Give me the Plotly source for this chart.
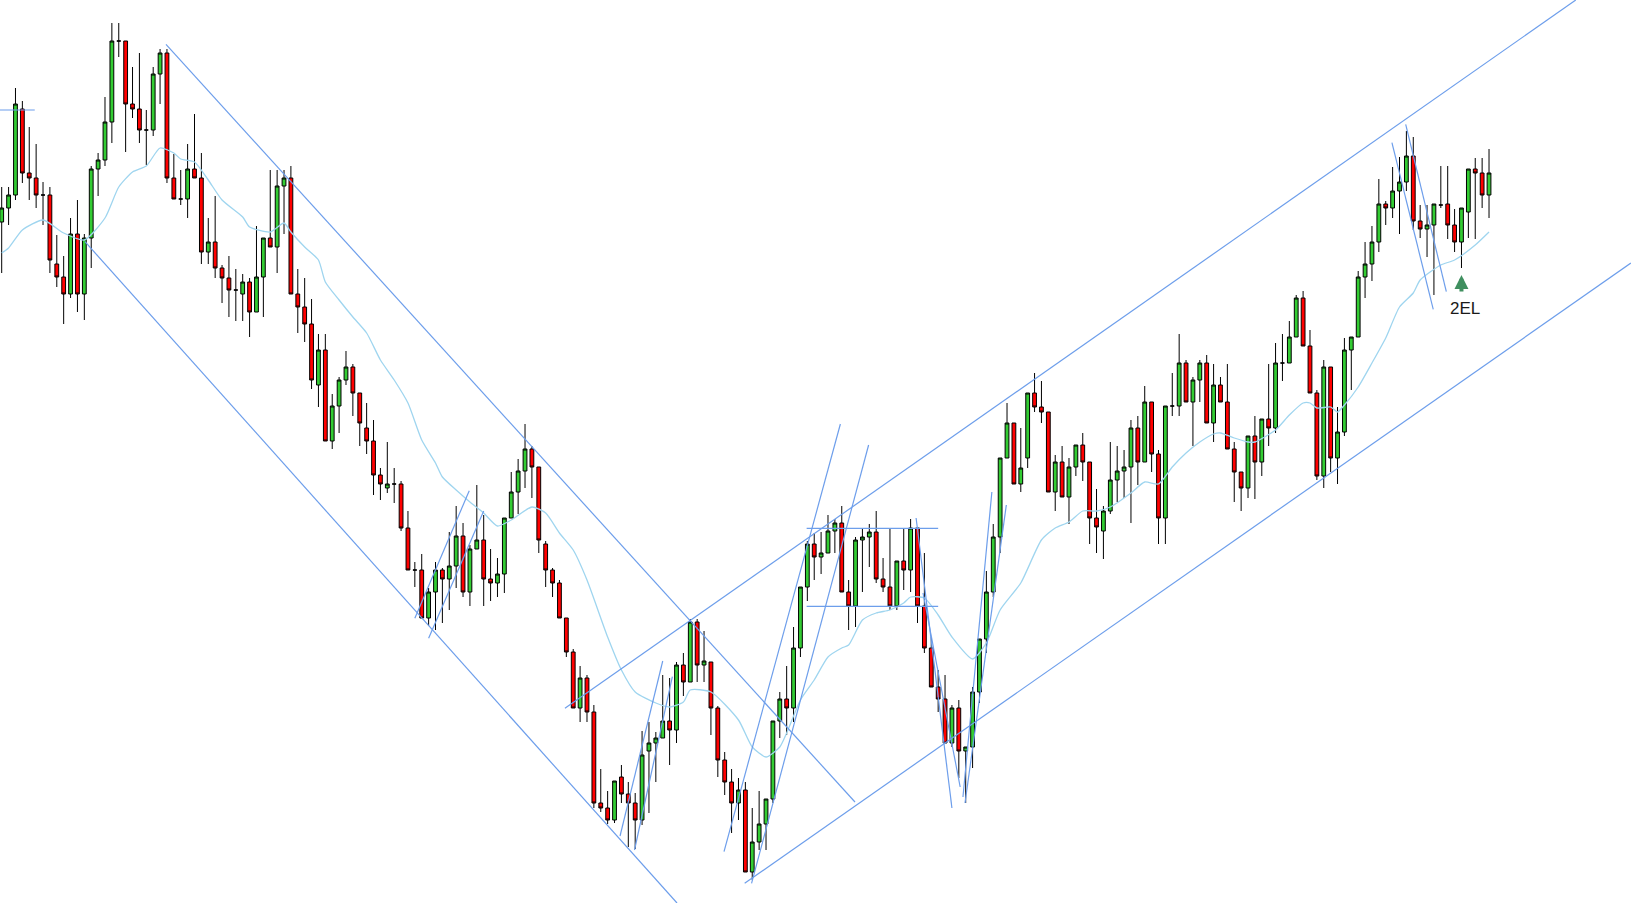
import plotly.graph_objects as go

# ---- data (candle index, prices) ----
opens = [681,695,708,794,730,725,708,708,639,626,609,669,609,665,734,743,781,862,862,799,
         794,773,773,829,850,725,704,704,734,725,651,661,635,625,613,609,621,591,626,665,
         656,717,725,609,596,579,518,553,462,497,523,536,510,475,462,428,415,419,419,375,
         333,333,285,311,333,324,337,367,311,354,363,324,320,329,385,411,432,454,436,359,
         333,320,285,251,195,225,191,100,95,83,126,109,100,83,152,160,165,182,173,238,
         221,281,238,241,195,143,121,100,113,31,61,79,104,182,204,195,255,316,359,346,
         350,372,380,311,297,363,366,371,324,316,297,342,333,375,297,255,216,204,160,195,
         152,156,211,264,311,366,445,480,419,445,510,496,491,411,441,406,436,458,441,385,
         372,392,423,432,436,475,441,501,449,385,497,497,540,501,523,540,480,518,501,454,
         431,415,467,441,484,475,540,540,566,605,557,510,427,536,445,471,553,566,626,639,
         661,699,695,712,721,747,682,674,678,698,699,678,661,691,734,730,708]
highs = [716,716,815,802,776,759,721,716,668,647,685,703,669,737,750,806,880,880,862,836,
         850,793,836,854,854,749,733,759,789,750,685,707,638,647,634,629,625,677,665,733,
         733,733,737,634,625,604,569,569,509,526,552,539,510,500,483,435,461,435,422,392,
         341,349,315,341,335,371,397,380,358,418,388,354,345,385,431,444,479,457,436,362,
         335,323,285,254,237,228,198,134,112,122,138,121,110,172,181,171,228,225,241,250,
         284,284,272,241,197,151,134,125,121,95,112,104,182,211,237,276,316,362,370,371,
         388,384,397,323,366,375,379,392,345,375,342,375,384,375,350,266,233,228,198,203,
         156,216,264,332,379,445,500,480,475,510,530,522,491,448,457,445,458,470,441,414,
         397,461,457,453,483,487,517,501,453,497,530,569,543,526,543,548,539,526,539,461,
         431,467,487,484,539,560,569,582,608,612,573,513,543,536,496,565,566,632,661,677,
         724,702,736,746,772,766,698,698,699,737,737,694,695,734,745,745,754]
lows = [630,678,703,720,703,695,678,630,616,579,605,591,583,635,707,737,760,846,751,785,
        760,738,767,799,720,704,698,685,725,639,639,625,600,586,582,582,566,591,586,656,
        630,669,609,570,561,514,496,462,454,470,518,487,457,449,408,403,410,400,372,333,
        316,285,277,273,280,293,315,306,297,354,297,302,306,310,385,389,415,405,350,316,
        306,285,246,195,181,181,95,91,79,80,100,56,54,78,90,121,165,138,160,207,
        221,221,221,168,126,108,70,83,31,23,53,53,100,165,168,181,246,302,323,329,
        350,350,311,273,276,311,336,320,311,293,293,313,311,280,250,216,191,160,156,125,
        100,135,200,250,306,350,445,419,411,435,491,480,411,392,406,379,427,422,359,350,
        344,389,401,405,380,418,441,431,359,359,487,487,501,457,501,480,461,501,454,401,
        392,405,404,427,457,470,522,540,566,557,510,423,415,431,419,467,513,566,605,622,
        651,678,685,669,712,673,665,646,608,695,664,651,635,665,664,695,685]
closes = [695,708,799,730,725,708,708,643,626,609,669,609,665,734,743,781,862,862,799,794,
          773,773,829,850,725,704,704,734,725,651,661,635,625,613,613,621,591,626,665,656,
          717,725,609,596,579,523,553,462,497,523,536,510,480,462,428,419,419,419,375,333,
          333,285,311,333,324,337,367,311,354,363,324,320,329,385,411,432,454,436,363,333,
          320,285,251,195,225,191,100,95,83,122,109,100,83,148,160,165,182,173,238,221,
          281,238,242,195,143,121,100,113,31,61,79,104,182,204,195,255,316,359,346,350,
          372,380,311,297,363,366,371,324,316,297,342,333,375,297,255,216,204,160,195,152,
          156,211,264,311,366,445,480,419,435,510,496,491,411,441,406,436,458,441,385,376,
          392,423,432,436,475,441,501,449,385,497,497,540,501,523,540,480,518,501,454,431,
          415,467,441,484,475,540,540,566,605,557,510,427,536,445,471,553,566,626,639,661,
          699,695,712,721,747,682,674,678,699,698,678,661,695,734,730,708,730]
idx = list(range(len(opens)))

# moving average (candle index, value)
ma_idx = [0,1,3,6,9,12,15,17,19,21,23,25,26,28,30,32,35,36,39,41,42,44,46,47,49,51,53,55,57,59,
          61,63,64,66,68,70,72,74,77,79,81,83,85,88,90,92,95,97,99,100,103,107,109,111,113,114,
          116,118,120,122,123,125,127,129,131,132,134,136,138,141,143,145,148,151,153,155,157,
          159,161,164,166,168,170,172,174,176,177,179,181,182,185,187,189,190,191,193,194,195,
          197,199,201,203,205,206,209,211,214,216]
ma_val = [650,655,673,683,670,663,685,716,731,737,755,750,744,741,723,703,686,676,671,680,671,
          656,643,621,603,586,570,543,523,500,463,440,426,413,401,390,377,383,396,390,370,353,
          323,266,233,211,200,196,201,213,211,183,156,146,156,170,203,223,246,255,258,283,290,
          293,300,306,305,288,266,244,260,293,320,363,375,381,392,392,396,410,421,419,436,450,
          461,469,470,465,461,461,473,488,500,500,495,496,491,498,516,540,565,596,610,623,638,
          643,658,671]

# trend lines: (index0, price0, index1, price1)
trendlines = [
    (-0.3, 793, 4.8, 793),
    (23.86, 858.7, 123.92, 101),
    (12.1, 661.3, 98.07, 0),
    (81.8, 194.7, 228.6, 903),
    (107.9, 19.7, 236.6, 640),
    (116.9, 374.7, 136.0, 374.7),
    (116.9, 296.7, 136.0, 296.7),
    (104.9, 51.3, 121.8, 479),
    (108.9, 19.7, 125.9, 458),
    (60.0, 284.7, 67.9, 412.3),
    (62.0, 264.7, 70.0, 392),
    (89.8, 67, 96.0, 242),
    (91.9, 53, 97.4, 226.3),
    (132.8, 385, 138.0, 95),
    (133.8, 310, 139.2, 116),
    (139.6, 106, 143.8, 411),
    (139.9, 100, 145.9, 398),
    (201.9, 760.3, 207.9, 593.7),
    (203.9, 778.7, 209.8, 611.3),
]

signal_idx = 212
signal_price = 628
signal_label = "2EL"
label_price = 594.5

fig = go.Figure()
fig.add_trace(go.Candlestick(
    x=idx, open=opens, high=highs, low=lows, close=closes,
    increasing=dict(fillcolor="#33cc33", line=dict(color="black", width=1)),
    decreasing=dict(fillcolor="#ff0000", line=dict(color="black", width=1)),
    whiskerwidth=0, hoverinfo="skip", showlegend=False,
))
fig.add_trace(go.Scatter(x=ma_idx, y=ma_val, mode="lines",
                         line=dict(color="#9fd5ef", width=1.3, shape="spline", smoothing=0.6),
                         hoverinfo="skip", showlegend=False))

for (x0, y0, x1, y1) in trendlines:
    fig.add_shape(type="line", xref="x", yref="y", x0=x0, y0=y0, x1=x1, y1=y1,
                  line=dict(color="#6d9eeb", width=1.2), layer="above")

fig.add_annotation(x=signal_idx, y=signal_price, xref="x", yref="y", text="",
                   showarrow=True, ax=0, ay=18, arrowhead=2, arrowsize=0.7,
                   arrowwidth=4, arrowcolor="#3f8f5f", standoff=0)
fig.add_annotation(x=signal_idx + 0.5, y=label_price, xref="x", yref="y", text=signal_label,
                   showarrow=False, font=dict(family="Liberation Sans, Arial", size=17, color="#1a1a1a"))

fig.update_layout(
    width=1631, height=903, margin=dict(l=0, r=0, t=0, b=0),
    paper_bgcolor="white", plot_bgcolor="white", boxgap=0.45, boxgroupgap=0,
    xaxis=dict(range=[-0.247, 236.62], visible=False, rangeslider=dict(visible=False), fixedrange=True),
    yaxis=dict(range=[0, 903], visible=False, fixedrange=True),
    showlegend=False,
)
fig.write_html("out.html", config={"displayModeBar": False},
               post_script="document.body.style.margin='0';document.body.style.overflow='hidden';")
